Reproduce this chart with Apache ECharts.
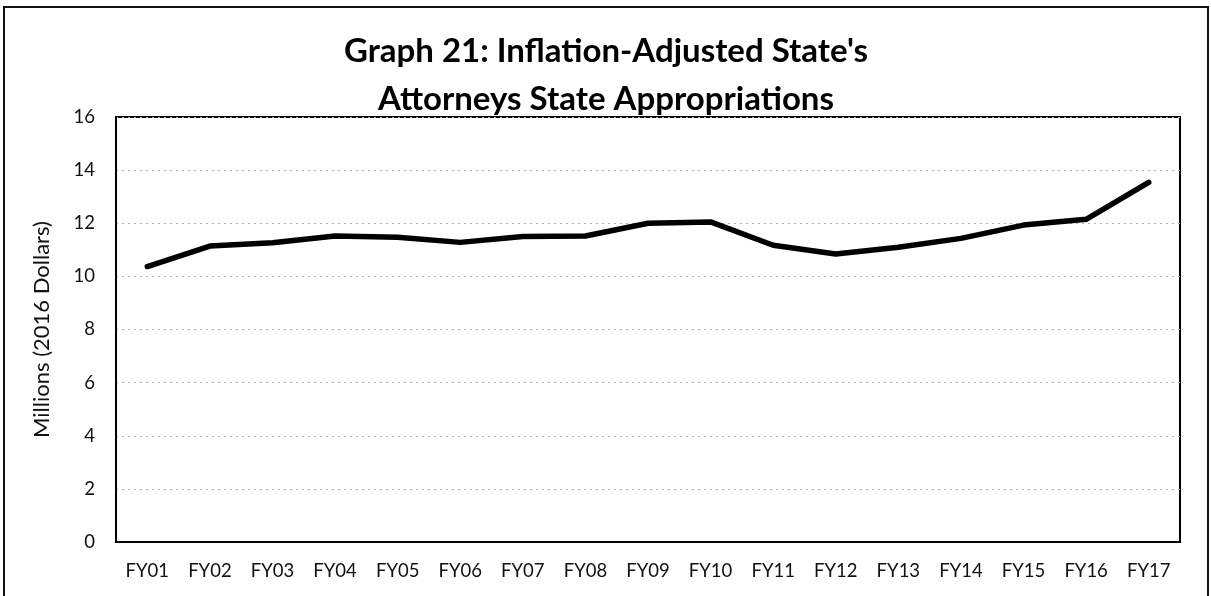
<!DOCTYPE html>
<html>
<head>
<meta charset="utf-8">
<script src="https://cdn.jsdelivr.net/npm/echarts@6/dist/echarts.min.js"></script>
<style>
  html, body { margin: 0; padding: 0; background: #fff; }
  #wrap { position: relative; width: 1211px; height: 596px; overflow: hidden; }
  #chart { position: absolute; left: 0; top: 0; width: 1211px; height: 596px; }
  #frame { position: absolute; left: 3px; top: 6px; width: 1202px; height: 620px;
           border: 2px solid #111; pointer-events: none; }
</style>
</head>
<body>
<div id="wrap">
  <div id="chart"></div>
  <div id="frame"></div>
</div>
<script>
const categories = ['FY01','FY02','FY03','FY04','FY05','FY06','FY07','FY08','FY09','FY10','FY11','FY12','FY13','FY14','FY15','FY16','FY17'];
const appropriations = [10.37, 11.14, 11.27, 11.52, 11.47, 11.28, 11.5, 11.52, 12.0, 12.05, 11.17, 10.84, 11.1, 11.43, 11.93, 12.15, 13.54];
const yTicks = { min: 0, max: 16, interval: 2 };
const titleLines = ["Graph 21: Inflation-Adjusted State's", "Attorneys State Appropriations"];
const yAxisName = 'Millions (2016 Dollars)';

const chart = echarts.init(document.getElementById('chart'), null, { renderer: 'canvas' });
chart.setOption({
  animation: false,
  backgroundColor: '#fff',
  title: {
    text: titleLines.join('\n'),
    left: 601,
    textAlign: 'center',
    top: 22,
    textStyle: {
      fontFamily: 'Lato',
      fontWeight: 'bold',
      fontSize: 33,
      lineHeight: 48,
      color: '#000'
    }
  },
  grid: { left: 116, right: 31, top: 117, bottom: 54, show: true, borderColor: '#000', borderWidth: 2, backgroundColor: 'transparent' },
  xAxis: {
    type: 'category',
    data: categories,
    boundaryGap: true,
    axisLine: { lineStyle: { color: '#000', width: 2 } },
    axisTick: { show: false },
    axisLabel: { color: '#111', fontFamily: 'Lato', fontSize: 18.5, margin: 20, interval: 0 }
  },
  yAxis: {
    type: 'value',
    min: yTicks.min, max: yTicks.max, interval: yTicks.interval,
    name: yAxisName,
    nameLocation: 'middle',
    nameGap: 63,
    nameTextStyle: { color: '#111', fontFamily: 'Lato', fontSize: 22 },
    axisLine: { show: true, lineStyle: { color: '#000', width: 2 } },
    axisTick: { show: false },
    axisLabel: { color: '#111', fontFamily: 'Lato', fontSize: 18.5, margin: 21 },
    splitLine: { lineStyle: { color: '#b0b0b0', type: [2, 4], width: 1 } }
  },
  series: [{
    type: 'line',
    data: appropriations,
    symbol: 'none',
    lineStyle: { color: '#000', width: 5.5, cap: 'round', join: 'round' },
    z: 5
  }]
});
</script>
</body>
</html>
